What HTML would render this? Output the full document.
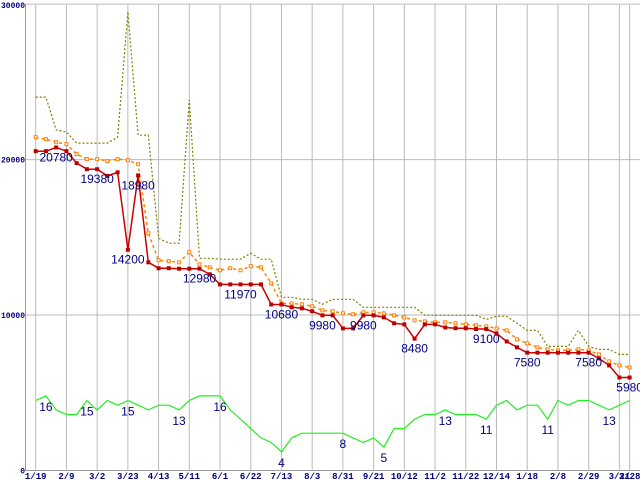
<!DOCTYPE html>
<html><head><meta charset="utf-8"><style>
html,body{margin:0;padding:0;background:#fff;}
svg{display:block;}
.tk{font-family:"Liberation Mono","DejaVu Sans Mono",monospace;font-size:9px;font-weight:bold;fill:#000080;}
.yk{font-family:"Liberation Mono","DejaVu Sans Mono",monospace;font-size:8px;font-weight:bold;fill:#000080;}
.lb{font-family:"Liberation Sans",sans-serif;font-size:12px;fill:#000080;}
</style></head><body>
<svg id="chart" width="640" height="480" viewBox="0 0 640 480" xmlns="http://www.w3.org/2000/svg">
<g id="grid"></g>
<g id="series"></g>
<g id="labels"></g>
</svg>
<script>
const xTickLabels=["1/19","2/9","3/2","3/23","4/13","5/11","6/1","6/22","7/13","8/3","8/31","9/21","10/12","11/2","11/22","12/14","1/18","2/8","2/29","3/21","3/28"];
const xTickIdx=[0,3,6,9,12,15,18,21,24,27,30,33,36,39,42,45,48,51,54,57,58];
const yTicks=[0,10000,20000,30000];
const minPrice=[20540,20540,20780,20540,19770,19380,19380,18950,19180,14200,18980,13390,13010,13010,12980,12980,12980,12620,11970,11970,11970,11970,11970,10680,10680,10500,10430,10240,9980,9980,9140,9140,9980,9980,9850,9470,9400,8480,9400,9400,9200,9150,9150,9100,9100,8820,8300,7920,7580,7580,7580,7580,7580,7580,7580,7210,6760,5980,5980];
const avgPrice=[21440,21310,21120,20990,20350,20030,20030,19900,20030,19960,19700,15260,13520,13460,13390,14040,13260,13070,12880,13010,12880,13140,13070,12040,10750,10750,10690,10560,10300,10240,10110,10050,10170,10170,10110,9980,9850,9660,9590,9530,9530,9470,9400,9340,9270,9140,9010,8440,8180,7920,7790,7730,7730,7790,7730,7470,7020,6760,6630];
const maxPrice=[24020,24020,21900,21770,21060,21060,21060,21060,21440,29500,21570,21570,14940,14620,14620,23830,13650,13650,13590,13590,13590,13970,13590,13590,11140,11140,11010,11010,10690,11010,11010,11010,10500,10500,10500,10500,10500,10500,9980,9980,9980,9980,9980,9980,9720,9920,9920,9470,9010,9010,7980,7980,7980,9010,7980,7790,7790,7470,7470];
const shopCount=[15,16,13,12,12,15,13,15,14,15,14,13,14,14,13,15,16,16,16,13,11,9,7,6,4,7,8,8,8,8,8,7,6,7,5,9,9,11,12,12,13,12,12,12,11,14,15,13,14,14,11,15,14,15,15,14,13,14,15];
const priceLabelIdx=[2,6,10,9,16,20,24,28,32,37,44,48,54,58];
const countLabelIdx=[1,5,9,14,18,24,30,34,40,44,50,56];
const countScale=300;
const NS="http://www.w3.org/2000/svg";
const X0=35.7,DX=10.24,Y0=470.5,K=466.4/30000;
const xs=i=>X0+i*DX;
const ys=v=>Y0-v*K;
function mk(tag,attrs,parent){const e=document.createElementNS(NS,tag);for(const k in attrs)e.setAttribute(k,attrs[k]);parent.appendChild(e);return e;}
const grid=document.getElementById('grid'),ser=document.getElementById('series'),lab=document.getElementById('labels');
yTicks.forEach(v=>{
 const l=mk('line',{x1:25,x2:640,y1:ys(v),y2:ys(v),stroke:v===0?'#999':'#bbb','stroke-width':1},grid);
 
 
 const t=mk('text',{x:25,y:ys(v)+(v===30000?4:3),'text-anchor':'end',class:'yk'},grid);t.textContent=String(v);
 
 
});
xTickIdx.forEach((idx,j)=>{
 const x=xs(idx);
 const l=mk('line',{x1:x,x2:x,y1:4,y2:Y0,stroke:'#bbb','stroke-width':1},grid);
 
 
 const t=mk('text',{x:x,y:479,'text-anchor':'middle',class:'tk'},grid);t.textContent=xTickLabels[j];
 
 
});
const ax=mk('line',{x1:25.5,x2:25.5,y1:4,y2:Y0,stroke:'#999','stroke-width':1},grid);


function pts(arr,f){return arr.map((v,i)=>xs(i).toFixed(1)+','+ys(f?f(v):v).toFixed(1)).join(' ');}
const g1=mk('polyline',{points:pts(shopCount,v=>v*countScale),fill:'none',stroke:'#22ee22','stroke-width':1.2},ser);


const o1=mk('polyline',{points:pts(maxPrice),fill:'none',stroke:'#808000','stroke-width':1.2,'stroke-dasharray':'2,2'},ser);


const a1=mk('polyline',{points:pts(avgPrice),fill:'none',stroke:'#ff8000','stroke-width':1.5,'stroke-dasharray':'3,3'},ser);


avgPrice.forEach((v,i)=>{const r=mk('rect',{x:xs(i)-1.5,y:ys(v)-1.5,width:3,height:3,fill:'#fff',stroke:'#ff8000','stroke-width':1},ser);
 
 });
const r1=mk('polyline',{points:pts(minPrice),fill:'none',stroke:'#cc0000','stroke-width':1.5},ser);


minPrice.forEach((v,i)=>{const r=mk('rect',{x:xs(i)-2,y:ys(v)-2,width:4,height:4,fill:'#bb0000'},ser);
 
 });
priceLabelIdx.forEach(i=>{const t=mk('text',{x:xs(i),y:ys(minPrice[i])+14,'text-anchor':'middle',class:'lb'},lab);t.textContent=String(minPrice[i]);
 
 });
countLabelIdx.forEach(i=>{const t=mk('text',{x:xs(i),y:ys(shopCount[i]*countScale)+15,'text-anchor':'middle',class:'lb'},lab);t.textContent=String(shopCount[i]);
 
 });
</script>
</body></html>
